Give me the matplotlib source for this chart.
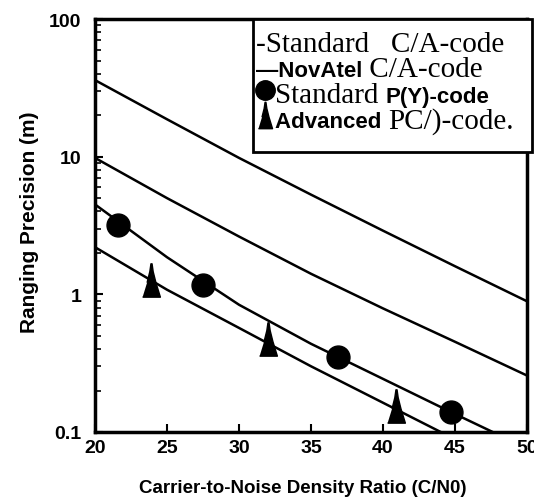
import matplotlib
matplotlib.use("Agg")
import matplotlib.pyplot as plt
from matplotlib.lines import Line2D
from matplotlib.offsetbox import AnchoredOffsetbox, DrawingArea, HPacker, TextArea
from matplotlib.patches import Rectangle
from matplotlib.ticker import LogLocator, NullFormatter

# C/N0 grid (dB-Hz) and the four theory curves
cn0 = [20, 25, 30, 35, 40, 45, 50]
std_ca = [36, 18.7, 9.8, 5.3, 2.9, 1.6, 0.89]
novatel_ca = [9.8, 5.0, 2.63, 1.41, 0.79, 0.452, 0.257]
std_py = [4.5, 1.86, 0.84, 0.437, 0.243, 0.135, 0.076]
adv_py = [2.2, 1.08, 0.57, 0.30, 0.163, 0.0885, 0.048]

# measured points
circ_x = [21.6, 27.5, 36.9, 44.7]
circ_y = [3.2, 1.16, 0.35, 0.14]
tri_x = [23.9, 32.0, 40.9]
tri_y = [1.28, 0.47, 0.155]

xticks = [20, 25, 30, 35, 40, 45, 50]
yticks = [0.1, 1, 10, 100]
ytick_labels = ["0.1", "1", "10", "100"]

SERIF = "Liberation Serif"
SANS = "Liberation Sans"

# tall spiky triangle, like the scanned marker
spike = [(-0.8, -1.5), (0.8, -1.5), (0.4, -0.2), (0.15, 0.8), (0.05, 1.5),
         (-0.05, 1.5), (-0.15, 0.8), (-0.4, -0.2)]

fig = plt.figure(figsize=(5.34, 5.02), dpi=100)
ax = fig.add_axes([0.178, 0.1375, 0.809, 0.8225])

for ys in (std_ca, novatel_ca, std_py, adv_py):
    ax.plot(cn0, ys, color="black", linewidth=1.8)
ax.plot(circ_x, circ_y, linestyle="none", marker="o", markersize=16.5,
        color="black", zorder=4)
ax.plot(tri_x, tri_y, linestyle="none", marker=spike, markersize=24,
        color="black", zorder=4)

ax.set_yscale("log")
ax.set_xlim(20, 50)
ax.set_ylim(0.1, 100)
ax.set_xticks(xticks)
ax.set_xticklabels([str(v) for v in xticks])
ax.set_yticks(yticks)
ax.set_yticklabels(ytick_labels)
ax.yaxis.set_minor_locator(LogLocator(base=10, subs=range(2, 10)))
ax.yaxis.set_minor_formatter(NullFormatter())
ax.tick_params(which="major", direction="in", length=6, width=1.5,
               top=False, right=False)
ax.tick_params(which="minor", direction="in", length=4, width=1.2)
ax.tick_params(axis="y", which="major", pad=10)
ax.tick_params(axis="x", which="major", pad=5)
for lab in ax.get_xticklabels() + ax.get_yticklabels():
    lab.set_fontfamily(SANS)
    lab.set_fontweight("bold")
    lab.set_fontsize(14)
for sp in ax.spines.values():
    sp.set_linewidth(2.5)

ax.set_xlabel("Carrier-to-Noise Density Ratio (C/N0)", family=SANS,
              fontweight="bold", fontsize=13.5)
ax.xaxis.set_label_coords(0.48, -0.113)
ax.set_ylabel("Ranging Precision (m)", family=SANS, fontweight="bold",
              fontsize=15)
ax.yaxis.set_label_coords(-0.13, 0.51)

# legend box drawn by hand, mixing serif and bold sans like the scan
ax.add_patch(Rectangle((0.366, 0.678), 0.646, 0.322, transform=ax.transAxes,
                       facecolor="white", edgecolor="black", linewidth=2,
                       clip_on=False, zorder=5))


def txt(s, serif=True):
    if serif:
        props = dict(family=SERIF, fontsize=21, color="black")
    else:
        props = dict(family=SANS, fontsize=16, fontweight="bold", color="black")
    return TextArea(s, textprops=props)


def mark(marker, size):
    da = DrawingArea(14, 18, 0, 4)
    da.add_artist(Line2D([7], [9], marker=marker, markersize=size,
                         color="black", linestyle="none"))
    return da


rows = [
    (0.939, [txt("-Standard   C/A-code")]),
    (0.878, [txt("\u2014NovAtel", serif=False), txt(" C/A-code")]),
    (0.816, [mark("o", 14), txt("Standard "), txt("P(Y)-code", serif=False)]),
    (0.755, [mark(spike, 19), txt("Advanced ", serif=False), txt("PC/)-code.")]),
]
for y, items in rows:
    box = HPacker(children=items, align="baseline", pad=0, sep=0)
    anchored = AnchoredOffsetbox(loc="center left", child=box, pad=0,
                                 borderpad=0, frameon=False,
                                 bbox_to_anchor=(0.372, y),
                                 bbox_transform=ax.transAxes)
    anchored.set_zorder(6)
    ax.add_artist(anchored)

fig.savefig("out.png", dpi=100)
